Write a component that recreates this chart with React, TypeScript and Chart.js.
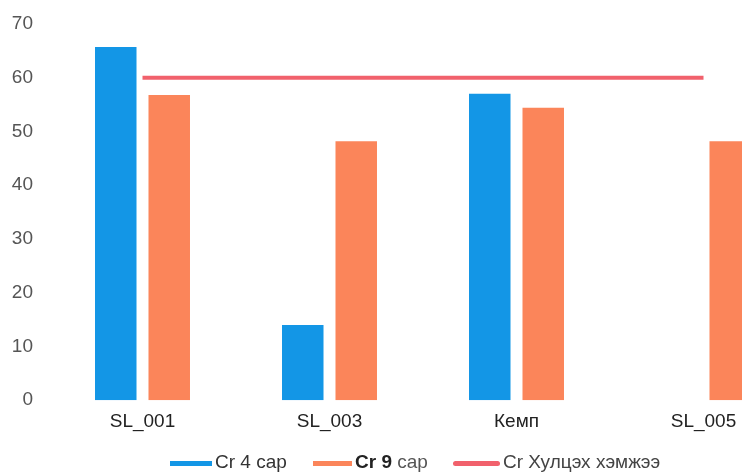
import React, { useEffect, useRef } from "react";
import { Chart, registerables } from "chart.js";

Chart.register(...registerables);

const categories = ["SL_001", "SL_003", "Кемп", "SL_005"];
const cr4Values: (number | null)[] = [65.7, 14.0, 57.0, null];
const cr9Values = [56.8, 48.2, 54.4, 48.2];
const limitValues = [60, 60, 60, 60];
const seriesLabels = ["Cr 4 сар", "Cr 9 сар", "Cr Хулцэх хэмжээ"];
const yMin = 0;
const yMax = 70;
const yStep = 10;

const BLUE = "#1396E6";
const ORANGE = "#FB855A";
const RED = "#F1616C";
const FONT = "'Liberation Sans', Arial, sans-serif";

const legendItems = [
  { label: seriesLabels[0], color: BLUE, left: 170, sw: 42, sh: 5, round: false, boldWords: 0, textColor: "#333" },
  { label: seriesLabels[1], color: ORANGE, left: 313, sw: 39, sh: 5, round: false, boldWords: 2, textColor: "#555" },
  { label: seriesLabels[2], color: RED, left: 453, sw: 47, sh: 5, round: true, boldWords: 0, textColor: "#444" },
];

export default function App() {
  const ref = useRef<HTMLCanvasElement | null>(null);

  useEffect(() => {
    if (!ref.current) return;
    const chart = new Chart(ref.current, {
      type: "bar",
      data: {
        labels: categories,
        datasets: [
          {
            label: seriesLabels[0],
            data: cr4Values,
            backgroundColor: BLUE,
            borderWidth: 0,
            barPercentage: 0.776,
            categoryPercentage: 0.572,
          },
          {
            label: seriesLabels[1],
            data: cr9Values,
            backgroundColor: ORANGE,
            borderWidth: 0,
            barPercentage: 0.776,
            categoryPercentage: 0.572,
          },
          {
            type: "line",
            label: seriesLabels[2],
            data: limitValues,
            borderColor: RED,
            backgroundColor: RED,
            borderWidth: 4,
            pointRadius: 0,
            pointHoverRadius: 0,
            fill: false,
          } as any,
        ],
      },
      options: {
        responsive: false,
        animation: false,
        layout: { autoPadding: false, padding: { top: 24, left: 0, right: 32, bottom: 29 } },
        plugins: {
          tooltip: { enabled: false },
          legend: { display: false },
        },
        scales: {
          x: {
            grid: { display: false, drawTicks: false },
            border: { display: false },
            ticks: {
              color: "#222",
              padding: 10,
              font: { family: FONT, size: 19 },
            },
          },
          y: {
            min: yMin,
            max: yMax,
            grid: { display: false, drawTicks: false },
            border: { display: false },
            ticks: {
              stepSize: yStep,
              color: "#555",
              padding: 16,
              font: { family: FONT, size: 19, lineHeight: 1 },
            },
            afterFit: (s: any) => {
              s.width = 49;
              s.paddingTop = 0;
              s.paddingBottom = 0;
            },
          },
        },
      },
    });
    return () => chart.destroy();
  }, []);

  return (
    <div
      style={{
        position: "fixed",
        left: 0,
        top: 0,
        width: 742,
        height: 472,
        overflow: "hidden",
        background: "#fff",
      }}
    >
      <canvas ref={ref} width={829} height={472} style={{ display: "block" }} />
      {legendItems.map((it, i) => {
        const words = it.label.split(" ");
        const boldPart = words.slice(0, it.boldWords).join(" ");
        const rest = words.slice(it.boldWords).join(" ");
        return (
          <div
            key={i}
            style={{
              position: "absolute",
              left: it.left,
              top: 451,
              height: 22,
              display: "flex",
              alignItems: "center",
              fontFamily: FONT,
              fontSize: 19,
              whiteSpace: "nowrap",
              color: it.textColor,
            }}
          >
            <span
              style={{
                display: "inline-block",
                width: it.sw,
                height: it.sh,
                background: it.color,
                borderRadius: it.round ? 3 : 0,
                marginRight: 3,
                marginTop: 3,
              }}
            />
            {boldPart && (
              <span style={{ fontWeight: "bold", color: "#222" }}>{boldPart}&nbsp;</span>
            )}
            <span>{rest}</span>
          </div>
        );
      })}
    </div>
  );
}
